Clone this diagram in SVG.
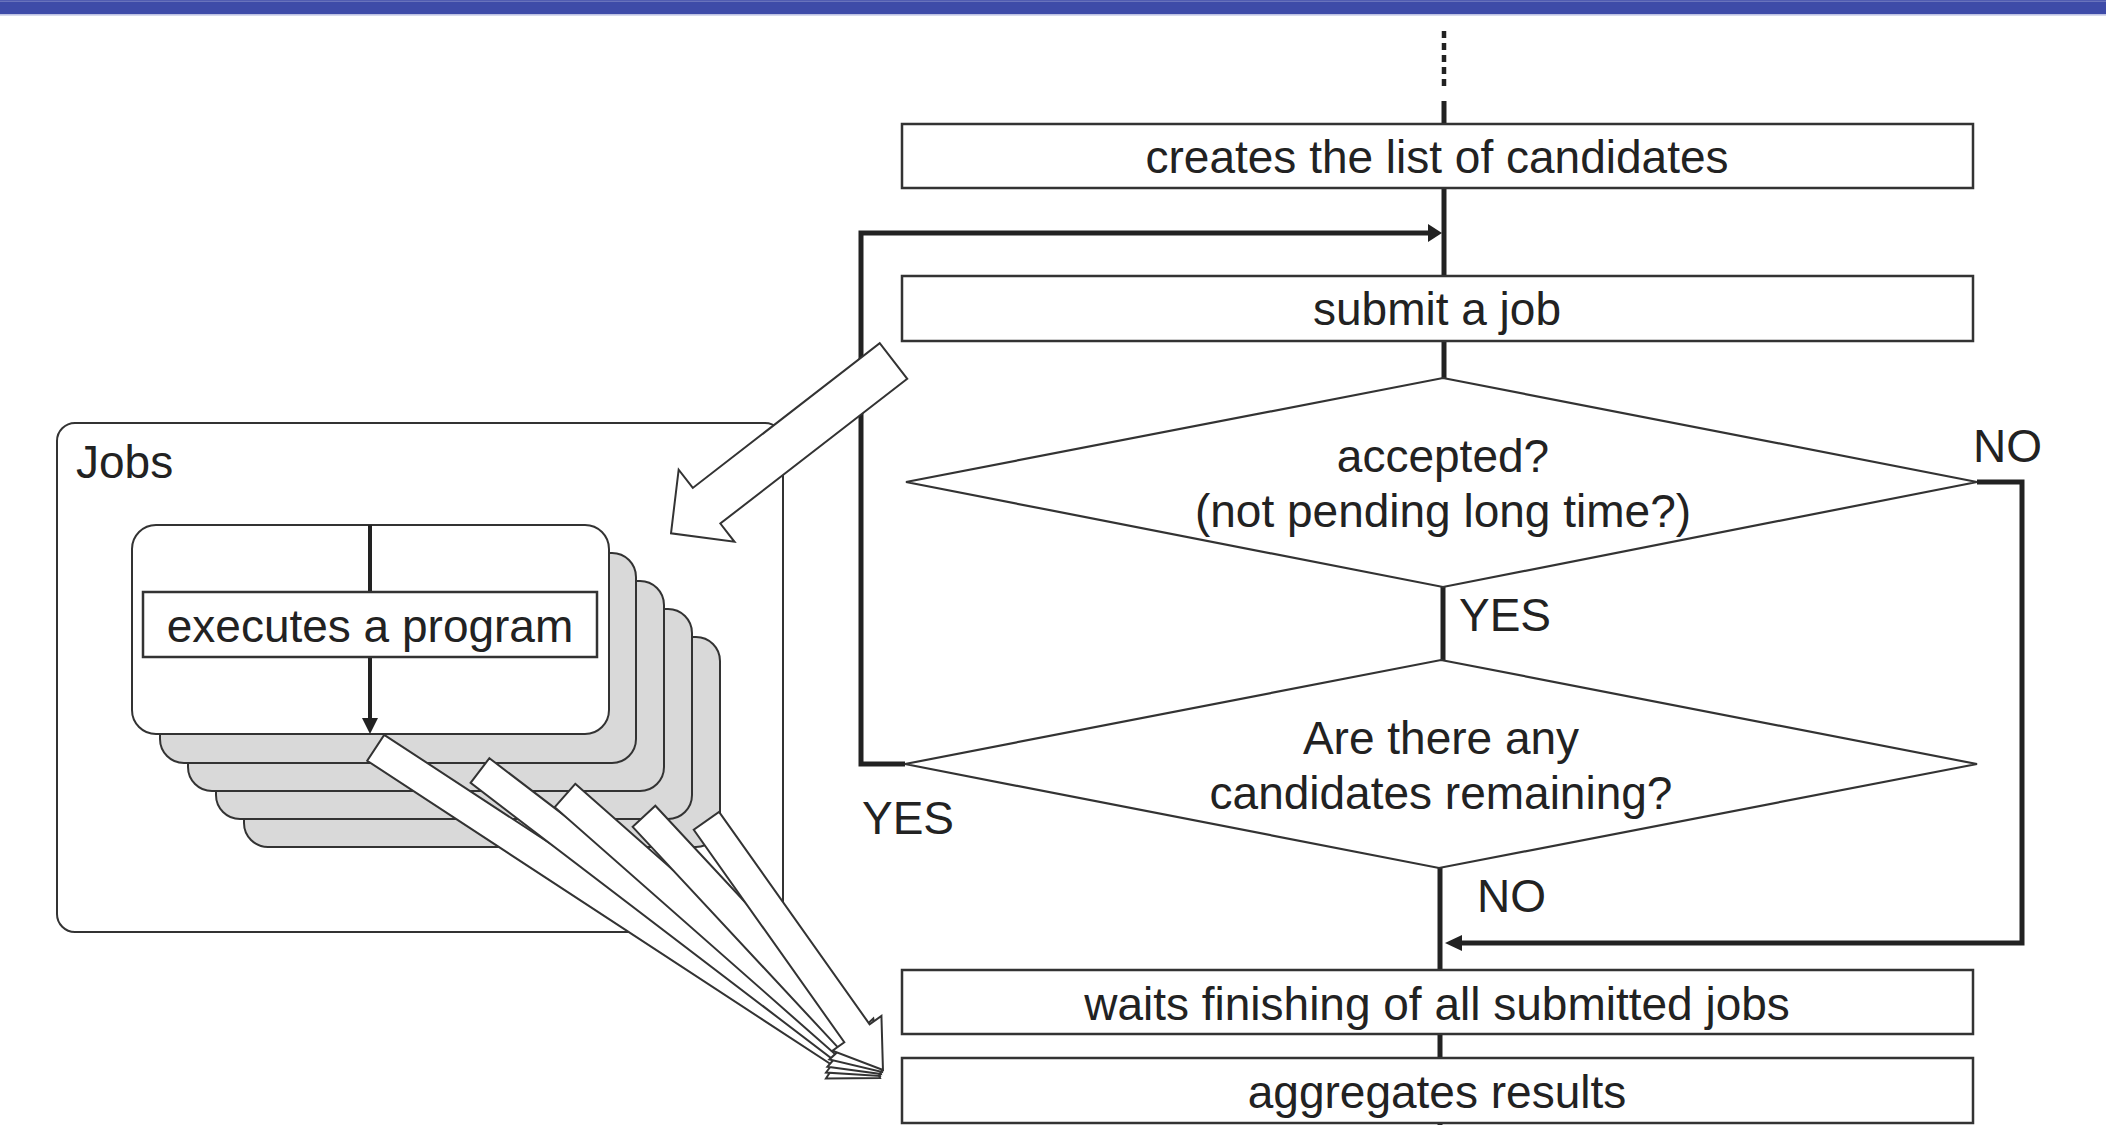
<svg xmlns="http://www.w3.org/2000/svg" width="2106" height="1125" viewBox="0 0 2106 1125">
<style>
.t{font-family:"Liberation Sans",Arial,sans-serif;font-size:46px;fill:#222}
.c{text-anchor:middle}
.box{fill:#fff;stroke:#333;stroke-width:2.5}
.dia{fill:#fff;stroke:#333;stroke-width:2.2}
.flow{fill:none;stroke:#222;stroke-width:5}
.card{fill:#d9d9d9;stroke:#333;stroke-width:2}
.blk{fill:#fff;stroke:#333;stroke-width:2;stroke-linejoin:miter}
.ah{fill:#222}
</style>
<rect x="0" y="0" width="2106" height="14.5" fill="#3e4ba8"/>
<line x1="0" y1="1.2" x2="2106" y2="1.2" stroke="#7d86c6" stroke-width="1"/>
<line x1="0" y1="15" x2="2106" y2="15" stroke="#c8cce8" stroke-width="1.5"/>

<g id="jobs">
<rect x="57" y="423" width="726" height="509" rx="18" fill="#fff" stroke="#333" stroke-width="2"/>
<text class="t" x="76" y="478">Jobs</text>
</g>

<g id="job-cards">
<rect class="card" x="244" y="637" width="476" height="210" rx="24"/>
<rect class="card" x="216" y="609" width="476" height="210" rx="24"/>
<rect class="card" x="188" y="581" width="476" height="210" rx="24"/>
<rect class="card" x="160" y="553" width="476" height="210" rx="24"/>
<rect x="132" y="525" width="477" height="209" rx="24" fill="#fff" stroke="#333" stroke-width="2"/>
<line x1="370" y1="525" x2="370" y2="592" stroke="#222" stroke-width="4"/>
<line x1="370" y1="657" x2="370" y2="720" stroke="#222" stroke-width="4"/>
<polygon class="ah" points="362,718 378,718 370,734"/>
</g>

<g id="executes">
<rect class="box" x="143" y="592" width="454" height="65"/>
<text class="t c" x="370" y="642">executes a program</text>
</g>

<g id="connectors">
<line x1="1444" y1="31" x2="1444" y2="89" stroke="#222" stroke-width="4.5" stroke-dasharray="7 5"/>
<line class="flow" x1="1444" y1="101" x2="1444" y2="124"/>
<line class="flow" x1="1444" y1="188" x2="1444" y2="275"/>
<line class="flow" x1="1444" y1="341" x2="1444" y2="378"/>
<line class="flow" x1="1443" y1="587" x2="1443" y2="660"/>
<line class="flow" x1="1440" y1="868" x2="1440" y2="969"/>
<line class="flow" x1="1440" y1="1034" x2="1440" y2="1058"/>
<line class="flow" x1="1440" y1="1123" x2="1440" y2="1125"/>
<polyline class="flow" points="905,764 861,764 861,233 1430,233"/>
<polygon class="ah" points="1428,224 1442,233 1428,242"/>
<polyline class="flow" points="1977,482 2022,482 2022,943 1460,943"/>
<polygon class="ah" points="1462,935 1445,943 1462,951"/>
<text class="t" x="1973" y="462">NO</text>
<text class="t" x="1459" y="631">YES</text>
<text class="t" x="862" y="834">YES</text>
<text class="t" x="1477" y="912">NO</text>
</g>

<g id="create-list">
<rect class="box" x="902" y="124" width="1071" height="64"/>
<text class="t c" x="1437" y="173">creates the list of candidates</text>
</g>
<g id="submit">
<rect class="box" x="902" y="276" width="1071" height="65"/>
<text class="t c" x="1437" y="325">submit a job</text>
</g>
<g id="accepted">
<polygon class="dia" points="1443,378 1977,482 1443,587 906,482"/>
<text class="t c" x="1443" y="472">accepted?</text>
<text class="t c" x="1443" y="527">(not pending long time?)</text>
</g>
<g id="remaining">
<polygon class="dia" points="1441,660 1977,764 1439,868 905,764"/>
<text class="t c" x="1441" y="754">Are there any</text>
<text class="t c" x="1441" y="809">candidates remaining?</text>
</g>
<g id="waits">
<rect class="box" x="902" y="970" width="1071" height="64"/>
<text class="t c" x="1437" y="1020">waits finishing of all submitted jobs</text>
</g>
<g id="aggregates">
<rect class="box" x="902" y="1058" width="1071" height="65"/>
<text class="t c" x="1437" y="1108">aggregates results</text>
</g>

<g id="submit-arrow">
<path class="blk" transform="translate(893.5,361) rotate(142.25)" d="M0,-22.5 H236.4 V-45.6 L281.4,0 L236.4,45.6 V22.5 H0 Z"/>
</g>

<g id="result-arrows">
<path class="blk" transform="translate(375.7,747.8) rotate(33.21)" d="M0,-15.5 H557.8 V-30 L602.8,0 L557.8,30 V15.5 H0 Z"/>
<path class="blk" transform="translate(480,770.5) rotate(37.37)" d="M0,-15.5 H458.3 V-30 L503.3,0 L458.3,30 V15.5 H0 Z"/>
<path class="blk" transform="translate(565,795.5) rotate(41.39)" d="M0,-15.5 H376.2 V-30 L421.2,0 L376.2,30 V15.5 H0 Z"/>
<path class="blk" transform="translate(644,816.3) rotate(47.05)" d="M0,-15.5 H304.3 V-30 L349.3,0 L304.3,30 V15.5 H0 Z"/>
<path class="blk" transform="translate(706.4,820.8) rotate(54.68)" d="M0,-15.5 H260.4 V-30 L305.4,0 L260.4,30 V15.5 H0 Z"/>
</g>
</svg>
